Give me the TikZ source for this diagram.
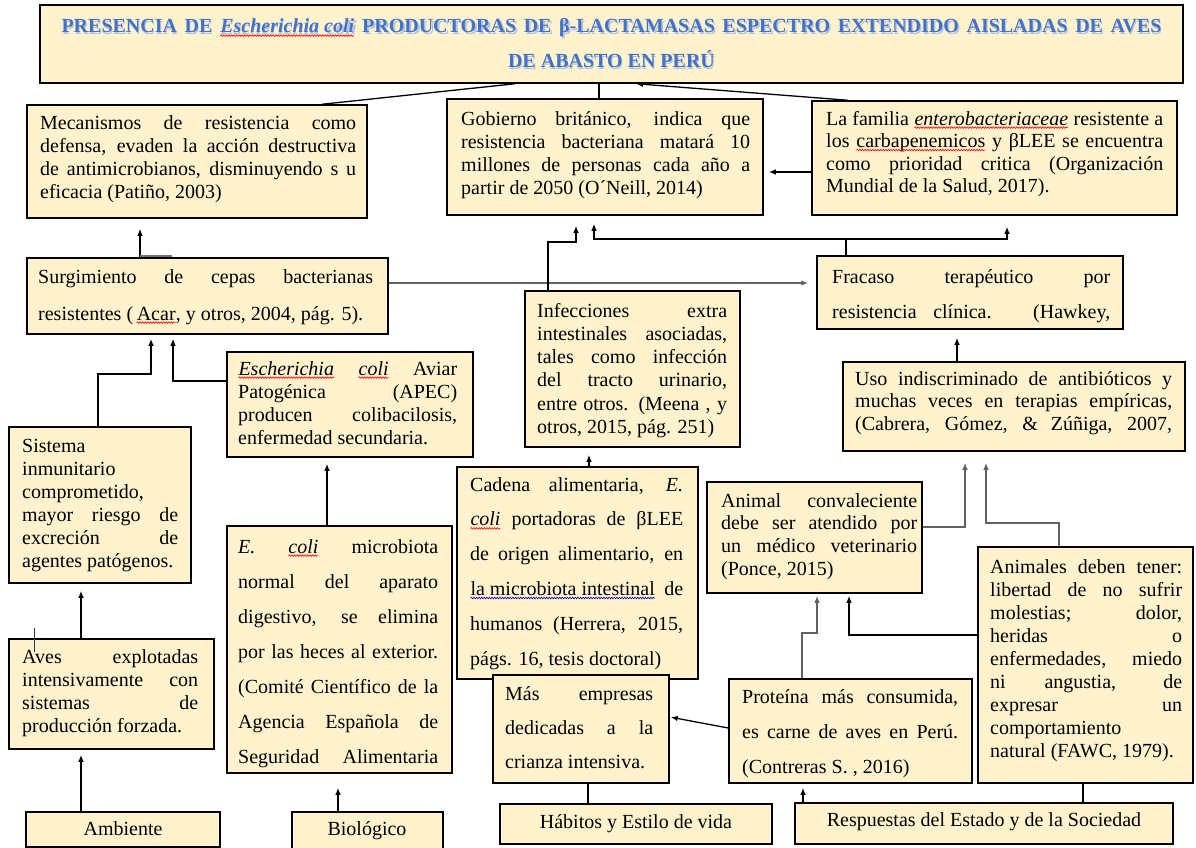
\documentclass[tikz,border=0pt]{standalone}
\usepackage{fontspec}
\setmainfont{Liberation Serif}
\usetikzlibrary{arrows.meta,fit,decorations.pathmorphing}
\definecolor{boxfill}{RGB}{255,242,204}
\definecolor{titleblue}{RGB}{68,114,196}
\definecolor{titleshadow}{RGB}{178,196,228}
\newcommand\jl[1]{\makebox[\linewidth][s]{#1}}
\newcommand\wv[2][red]{\tikz[baseline=(w.base)]{\node[inner sep=0pt,outer sep=0pt,anchor=base](w){#2};\draw[#1,line width=0.6pt,decorate,decoration={snake,amplitude=0.8pt,segment length=2.6pt}]([yshift=-2.6pt]w.base west)--([yshift=-2.6pt]w.base east);}}
\tikzset{
  box/.style={draw=black, line width=1.5pt, fill=boxfill, inner sep=0pt},
  txt/.style={inner sep=0pt, anchor=base west, font=\fontsize{20}{#1}\selectfont},
  txt/.default=23,
  ctxt/.style={inner sep=0pt, anchor=base, font=\fontsize{20}{23}\selectfont},
  ln/.style={draw=black, line width=1.3pt},
  arr/.style={ln, -{Latex[length=7pt,width=5.5pt]}},
  garr/.style={arr, draw=black!62, line width=1.9pt},
  ttl/.style={inner sep=0pt, anchor=base, font=\fontsize{20}{24}\selectfont\bfseries}
}
\begin{document}
\begin{tikzpicture}[x=1pt,y=-1pt]
\fill[white] (0,0) rectangle (1196,848);
\useasboundingbox (0,0) rectangle (1196,848);

% ---------- title ----------
\node[box, fit={(40,5) (1183,83)}] (title) {};
\node[ttl, text=titleshadow] (tsh1) at (612.3,35) {\makebox[1100pt][s]{PRESENCIA DE \textit{Escherichia coli} PRODUCTORAS DE β-LACTAMASAS ESPECTRO EXTENDIDO AISLADAS DE AVES}};
\node[ttl, text=titleshadow] (tsh2) at (612.3,70) {DE ABASTO EN PERÚ};
\node[ttl, text=titleblue] (t1) at (611.5,33) {\makebox[1100pt][s]{PRESENCIA DE \wv{\textit{Escherichia coli}} PRODUCTORAS DE β-LACTAMASAS ESPECTRO EXTENDIDO AISLADAS DE AVES}};
\node[ttl, text=titleblue] (t2) at (611.5,68) {DE ABASTO EN PERÚ};

% ---------- boxes ----------
\node[box, fit={(27,105) (367,218)}] (mec) {};
\node[txt] (mect) at (40,130) {\parbox[t]{316pt}{\jl{Mecanismos de resistencia como}\\\jl{defensa, evaden la acción destructiva}\\\jl{de antimicrobianos, disminuyendo s u}\\eficacia (Patiño, 2003)}};

\node[box, fit={(447,99) (763,215)}] (gob) {};
\node[txt=23.3] (gobt) at (461,125) {\parbox[t]{289pt}{\jl{Gobierno británico, indica que}\\\jl{resistencia bacteriana matará 10}\\\jl{millones de personas cada año a}\\partir de 2050 (O´Neill, 2014)}};

\node[box, fit={(812,101) (1177,215)}] (fam) {};
\node[txt=22.5] (famt) at (826,125) {\parbox[t]{337pt}{\jl{La familia \wv{\textit{enterobacteriaceae}} resistente a}\\\jl{los \wv{carbapenemicos} y βLEE se encuentra}\\\jl{como prioridad critica (Organización}\\Mundial de la Salud, 2017).}};

\node[box, fit={(27,258) (388,334)}] (surg) {};
\node[txt=37] (surgt) at (38,283) {\parbox[t]{335pt}{\jl{Surgimiento de cepas bacterianas}\\resistentes (\,\wv{Acar}, y otros, 2004, pág. 5).}};

\node[box, fit={(817,256) (1123,329)}] (frac) {};
\node[txt=35] (fract) at (832,283) {\parbox[t]{278pt}{\jl{Fracaso terapéutico por}\\\jl{resistencia clínica. (Hawkey,}}};

\node[box, fit={(525,291) (740,447)}] (inf) {};
\node[txt=23.3] (inft) at (537,317) {\parbox[t]{190pt}{\jl{Infecciones extra}\\\jl{intestinales asociadas,}\\\jl{tales como infección}\\\jl{del tracto urinario,}\\\jl{entre otros. (Meena , y}\\otros, 2015, pág. 251)}};

\node[box, fit={(457,467) (698,679)}] (cad) {};
\node[txt=34.8] (cadt) at (470,491) {\parbox[t]{213pt}{\jl{Cadena alimentaria, \textit{E.}}\\\jl{\wv{\textit{coli}} portadoras de βLEE}\\\jl{de origen alimentario, en}\\\jl{\wv[blue!70!black]{la microbiota intestinal} de}\\\jl{humanos (Herrera, 2015,}\\págs. 16, tesis doctoral)}};

\node[box, fit={(493,675) (669,783)}] (mas) {};
\node[txt=34] (mast) at (505,700) {\parbox[t]{148pt}{\jl{Más empresas}\\\jl{dedicadas a la}\\crianza intensiva.}};

\node[box, fit={(500,804) (772,844)}] (hab) {};
\node[ctxt] (habt) at (636,828) {Hábitos y Estilo de vida};

\node[box, fit={(729,679) (972,783)}] (prot) {};
\node[txt=35] (prott) at (742,703) {\parbox[t]{216pt}{\jl{Proteína más consumida,}\\\jl{es carne de aves en Perú.}\\(Contreras S. , 2016)}};

\node[box, fit={(795,803) (1173,844)}] (resp) {};
\node[ctxt] (respt) at (984,826) {Respuestas del Estado y de la Sociedad};

\node[box, fit={(978,547) (1193,783)}] (anis) {};
\node[txt=23] (anist) at (990,573) {\parbox[t]{192pt}{\jl{Animales deben tener:}\\\jl{libertad de no sufrir}\\\jl{molestias; dolor,}\\\jl{heridas o}\\\jl{enfermedades, miedo}\\\jl{ni angustia, de}\\\jl{expresar un}\\comportamiento\\natural (FAWC, 1979).}};

\node[box, fit={(707,482) (922,593)}] (conv) {};
\node[txt=22.7] (convt) at (721,507) {\parbox[t]{196pt}{\jl{Animal convaleciente}\\\jl{debe ser atendido por}\\\jl{un médico veterinario}\\(Ponce, 2015)}};

\node[box, fit={(843,362) (1185,451)}] (uso) {};
\node[txt=22.5] (usot) at (855,385) {\parbox[t]{317pt}{\jl{Uso indiscriminado de antibióticos y}\\\jl{muchas veces en terapias empíricas,}\\\jl{(Cabrera, Gómez, \& Zúñiga, 2007,}}};

\node[box, fit={(9,427) (191,583)}] (sis) {};
\node[txt=23] (sist) at (22,452) {\parbox[t]{156pt}{Sistema\\inmunitario\\comprometido,\\\jl{mayor riesgo de}\\\jl{excreción de}\\agentes patógenos.}};

\node[box, fit={(227,352) (473,457)}] (apec) {};
\node[txt=23.3] (apect) at (238,375) {\parbox[t]{219pt}{\jl{\wv{\textit{Escherichia}} \wv{\textit{coli}} Aviar}\\\jl{Patogénica (APEC)}\\\jl{producen colibacilosis,}\\enfermedad secundaria.}};

\node[box, fit={(227,526) (452,773)}] (eco) {};
\node[txt=35] (ecot) at (238,553) {\parbox[t]{200pt}{\jl{\textit{E.} \wv{\textit{coli}} microbiota}\\\jl{normal del aparato}\\\jl{digestivo, se elimina}\\\jl{por las heces al exterior.}\\\jl{(Comité Científico de la}\\\jl{Agencia Española de}\\\jl{Seguridad Alimentaria}}};

\node[box, fit={(9,639) (214,749)}] (aves) {};
\node[txt=23.3] (avest) at (22,663) {\parbox[t]{176pt}{\jl{Aves explotadas}\\\jl{intensivamente con}\\\jl{sistemas de}\\producción forzada.}};

\node[box, fit={(26,812) (220,847)}] (amb) {};
\node[ctxt] (ambt) at (123,835) {Ambiente};

\node[box, fit={(292,812) (443,852)}] (bio) {};
\node[ctxt] (biot) at (367,835) {Biológico};

% ---------- connectors ----------
\draw[ln] (515,0 |- title.south) -- (322,0 |- mec.north);
\draw[ln] (599,0 |- title.south) -- (599,0 |- gob.north);
\draw[arr] (848,0 |- fam.north) -- (636,0 |- title.south);
\draw[arr, shorten >=5pt] (fam.west |- 0,172) -- (gob.east |- 0,172);

\draw[arr, shorten >=10pt] (140,0 |- surg.north) -- (140,0 |- mec.south);
\draw[draw=black!55, line width=1.5pt] (140,256) -- (172,256);
\draw[garr, shorten >=8pt] (surg.east |- 0,283) -- (frac.west |- 0,283);

\coordinate (fj) at (846,239);
\draw[arr, shorten >=8pt] (846,0 |- frac.north) -- (fj) -| (594,0 |- gob.south);
\draw[arr, shorten >=11pt] (fj) -| (1007,0 |- fam.south);
\draw[arr, shorten >=10pt] (548,0 |- inf.north) |- (576,242) -- (576,0 |- gob.south);

\draw[arr, shorten >=4pt] (98,0 |- sis.north) |- (151,374) -- (151,0 |- surg.south);
\draw[arr, shorten >=4pt] (apec.west |- 0,381) -| (173,0 |- surg.south);
\draw[arr, shorten >=7pt] (81,0 |- aves.north) -- (81,0 |- sis.south);
\draw[arr, shorten >=5pt] (81,0 |- amb.north) -- (81,0 |- aves.south);
\draw[arr, shorten >=6pt] (327,0 |- eco.north) -- (327,0 |- apec.south);
\draw[arr, shorten >=14pt] (338,0 |- bio.north) -- (338,0 |- eco.south);
\draw[arr, shorten >=7pt] (589,0 |- cad.north) -- (589,0 |- inf.south);

\draw[ln] (588,0 |- hab.north) -- (588,0 |- mas.south);
\draw[arr, shorten >=1pt] (prot.west |- 0,728) -- (mas.east |- 0,717);
\draw[arr, shorten >=4pt] (803,0 |- resp.north) -- (803,0 |- prot.south);
\draw[ln] (1083,0 |- resp.north) -- (1083,0 |- anis.south);

\draw[arr, shorten >=8pt] (957,0 |- uso.north) -- (957,0 |- frac.south);
\draw[garr, shorten >=11pt] (conv.east |- 0,527) -| (965,0 |- uso.south);
\draw[garr, shorten >=11pt] (1059,0 |- anis.north) |- (986,523) -- (986,0 |- uso.south);
\draw[garr, shorten >=2pt] (802,0 |- prot.north) |- (817,633) -- (817,0 |- conv.south);
\draw[arr, shorten >=2pt] (anis.west |- 0,635) -| (849,0 |- conv.south);

\draw[line width=1pt, draw={rgb,255:red,40;green,50;blue,90}] (34,628) -- (34,652);
\end{tikzpicture}
\end{document}
